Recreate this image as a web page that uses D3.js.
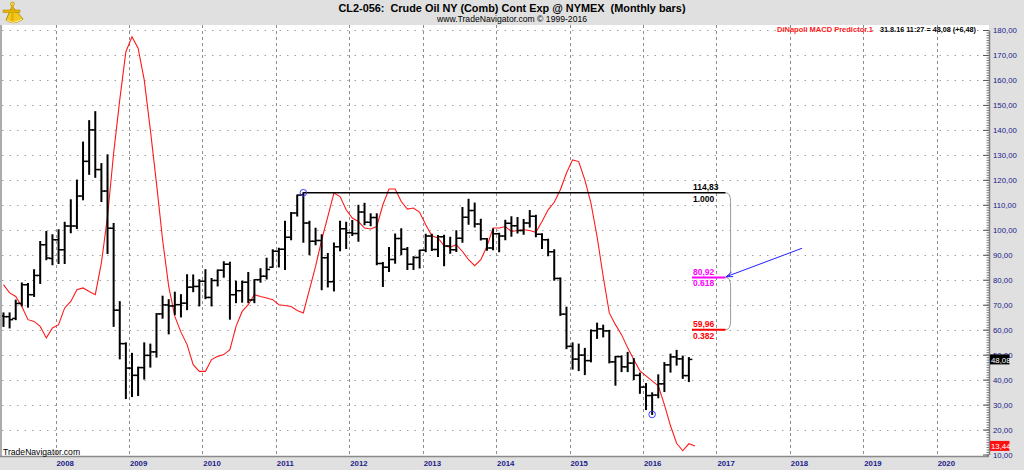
<!DOCTYPE html>
<html><head><meta charset="utf-8">
<script src="https://cdn.jsdelivr.net/npm/d3@7"></script>
<style>
html,body{margin:0;padding:0;background:#e0e0e0;overflow:hidden;}
svg{display:block;font-family:"Liberation Sans",Arial,sans-serif;}
</style></head><body>
<svg id="c" width="1024" height="470"></svg>
<script>
const months = ("2007-04 2007-05 2007-06 2007-07 2007-08 2007-09 2007-10 2007-11 2007-12 " +
 "2008-01 2008-02 2008-03 2008-04 2008-05 2008-06 2008-07 2008-08 2008-09 2008-10 2008-11 2008-12 " +
 "2009-01 2009-02 2009-03 2009-04 2009-05 2009-06 2009-07 2009-08 2009-09 2009-10 2009-11 2009-12 " +
 "2010-01 2010-02 2010-03 2010-04 2010-05 2010-06 2010-07 2010-08 2010-09 2010-10 2010-11 2010-12 " +
 "2011-01 2011-02 2011-03 2011-04 2011-05 2011-06 2011-07 2011-08 2011-09 2011-10 2011-11 2011-12 " +
 "2012-01 2012-02 2012-03 2012-04 2012-05 2012-06 2012-07 2012-08 2012-09 2012-10 2012-11 2012-12 " +
 "2013-01 2013-02 2013-03 2013-04 2013-05 2013-06 2013-07 2013-08 2013-09 2013-10 2013-11 2013-12 " +
 "2014-01 2014-02 2014-03 2014-04 2014-05 2014-06 2014-07 2014-08 2014-09 2014-10 2014-11 2014-12 " +
 "2015-01 2015-02 2015-03 2015-04 2015-05 2015-06 2015-07 2015-08 2015-09 2015-10 2015-11 2015-12 " +
 "2016-01 2016-02 2016-03 2016-04 2016-05 2016-06 2016-07 2016-08").split(" ");

const openV = [65.5,65.2,64.5,70.5,78.0,74.0,81.7,94.0,88.5,
 96.0,92.0,101.5,101.5,113.5,127.4,140.0,124.1,115.5,100.6,67.8,54.4,
 44.6,41.7,44.8,49.7,51.1,66.3,69.9,69.5,70.0,70.6,77.0,77.3,
 79.4,72.9,79.7,83.8,86.2,74.0,75.6,79.0,71.9,80.0,81.4,85.0,
 91.4,92.2,97.0,106.7,113.9,102.7,95.4,95.7,88.8,79.2,93.2,100.4,
 98.8,98.5,107.1,103.0,104.9,86.5,85.0,88.1,96.5,92.2,86.2,88.9,
 91.8,97.5,92.1,97.2,93.5,92.0,96.6,105.0,107.7,102.3,96.4,92.7,
 98.4,97.5,102.6,101.6,99.7,102.7,105.4,98.2,96.0,91.2,80.5,66.2,
 53.3,48.2,49.8,47.6,59.6,60.3,59.5,47.1,49.2,45.1,46.6,41.7,
 37.0,33.6,33.8,38.3,45.9,49.1,48.3,41.6];
const highV = [66.7,66.7,71.8,78.7,78.5,84.0,95.3,99.3,98.0,
 100.0,103.0,112.0,119.9,135.1,143.7,147.3,126.5,130.0,102.5,71.2,54.7,
 50.5,45.0,54.7,54.2,66.4,73.4,72.0,75.0,74.0,82.0,81.9,80.0,
 84.0,80.5,83.9,87.2,87.0,79.4,79.4,82.9,80.0,84.4,88.6,92.0,
 92.6,103.4,106.9,113.9,114.83,103.4,100.6,98.0,90.5,94.7,103.4,103.0,
 103.7,109.8,110.6,106.4,106.4,86.9,92.9,98.3,100.4,92.9,89.2,91.8,
 98.2,98.2,97.7,97.8,97.0,99.6,108.9,112.2,110.7,104.2,96.5,100.3,
 98.6,103.8,105.2,104.9,104.1,107.7,105.8,98.4,96.2,92.0,80.7,69.0,
 54.7,54.2,52.5,59.9,62.6,61.8,59.7,49.3,49.5,50.9,48.4,42.6,
 38.4,34.7,41.9,46.8,50.2,51.7,49.4,48.8];
const lowV = [61.3,60.7,64.0,69.5,69.0,73.3,78.5,88.0,86.0,
 86.5,86.5,98.8,100.5,112.0,122.2,121.0,111.3,90.5,61.3,48.3,32.4,
 33.2,33.6,40.2,45.0,49.0,64.6,58.3,66.0,65.1,68.0,75.2,69.5,
 72.4,69.5,77.5,81.0,64.2,70.8,71.0,70.8,70.8,79.0,80.3,85.0,
 85.1,84.1,96.0,105.5,95.0,90.0,94.0,76.0,77.1,75.5,91.6,92.5,
 97.7,95.4,102.0,101.6,86.0,77.3,83.3,86.6,90.0,84.1,84.1,84.7,
 91.2,91.7,89.3,85.6,90.6,91.3,95.0,102.2,101.1,95.9,91.8,92.0,
 91.2,96.0,97.4,98.7,98.2,101.1,97.2,92.5,89.6,79.8,65.7,52.4,
 44.2,43.6,42.0,47.1,56.5,57.1,46.7,37.75,43.2,43.2,40.0,34.5,
 28.0,26.05,32.7,35.2,43.0,45.8,40.5,39.2];
const closeV = [65.2,64.0,70.5,78.0,74.0,81.7,94.0,88.7,96.0,
 92.0,101.5,101.5,113.5,127.4,140.0,124.1,115.5,100.6,67.8,54.4,44.6,
 41.7,44.8,49.7,51.1,66.3,69.9,69.5,70.0,70.6,77.0,77.3,79.4,
 72.9,79.7,83.8,86.2,74.0,75.6,79.0,71.9,80.0,81.4,84.1,91.4,
 92.2,97.0,106.7,113.9,102.7,95.4,95.7,88.8,79.2,93.2,100.4,98.8,
 98.5,107.1,103.0,104.9,86.5,85.0,88.1,96.5,92.2,86.2,88.9,91.8,
 97.5,92.1,97.2,93.5,92.0,96.6,105.0,107.7,102.3,96.4,92.7,98.4,
 97.5,102.6,101.6,99.7,102.7,105.4,98.2,96.0,91.2,80.5,66.2,53.3,
 48.2,49.8,47.6,59.6,60.3,59.5,47.1,49.2,45.1,46.6,41.7,37.0,
 33.6,33.8,38.3,45.9,49.1,48.3,41.6,48.08];

// DiNapoli MACD Predictor, Apr 2007 .. Sep 2016 (one bar beyond the price data)
const predictorMonths = months.concat(["2016-09"]);
const predictorV = [78,74.7,73.3,69.3,64,63.3,61.3,56.7,60.7,
 62,68.7,71.3,76,76.7,75.3,74,86.7,105.3,130.7,152,171.3,
 177.3,172.7,160,140,118.7,96,77.3,65.3,59,54,46,43.3,
 43.3,48,49.3,50,52,61.3,67.3,70,74,73.3,72.7,72,
 70,69.7,69.3,67.7,66.7,76,85.3,96,105.3,114.7,113.3,108,
 104.7,103.3,100.7,100.3,101.3,110,116.3,116.3,111.3,108.3,108.7,107,
 102,97.6,96.7,93.6,93,94,91.3,88,85.6,88,93.3,100.7,
 100.7,101.3,99.3,99.7,100,99.7,99,103.3,108,111,116,122.7,
 128,127.3,120,110.7,97.3,81.3,66.7,62,58,52.7,48,43.5,
 41.5,39.5,37.5,30,21.5,14.5,11.5,14.3,13.44];

const yTicks = [10,20,30,40,50,60,70,80,90,100,110,120,130,140,150,160,170,180];
const yearLabels = ["2008","2009","2010","2011","2012","2013","2014","2015","2016","2017","2018","2019","2020"];

// Fibonacci retracement annotation
const swingHighMonth = "2011-05", swingHigh = 114.83;
const swingLowMonth = "2016-02", swingLow = 26.05;
const fibValues = [114.83, 80.92, 59.96];
const fibRatios = ["1.000", "0.618", "0.382"];
const fibEndMonth = "2017-02";
const fibLabelMonth = "2016-09";
const arrowFrom = ["2018-03", 92.6], arrowTo = ["2017-03", 81.2];

const lastPrice = 48.08, lastPredictor = 13.44;

const title = "CL2-056:  Crude Oil NY (Comb) Cont Exp @ NYMEX  (Monthly bars)";
const subtitle = "www.TradeNavigator.com \u00A9 1999-2016";
const legendName = "DiNapoli MACD Predictor.1";
const legendQuote = "31.8.16 11:27 = 48,08 (+6,48)";

// ---------------------------------------------------------------
const svg = d3.select("#c");
const L = 2, R = 989, T = 25, B = 456;
const mIdx = m => { const [y, mo] = m.split("-").map(Number); return (y - 2008) * 12 + (mo - 1); };
const x = d3.scaleLinear().domain([0, 144]).range([55.5, 936.7]);
const y = d3.scaleLinear().domain([10, 180]).range([454.5, 30]);
const cx = m => x(mIdx(m) + 0.5);
const fmt = v => d3.format(".2f")(v).replace(".", ",");

// plot background
svg.append("rect").attr("x", L).attr("y", T).attr("width", R - L).attr("height", B - T).attr("fill", "#fff");
svg.append("line").attr("x1", 1).attr("x2", 1).attr("y1", T).attr("y2", B).attr("stroke", "#9a9a9a").attr("stroke-width", 1.5);
svg.append("line").attr("x1", 0).attr("x2", R).attr("y1", B + 0.5).attr("y2", B + 0.5).attr("stroke", "#8a8a8a").attr("stroke-width", 1.5);

svg.append("clipPath").attr("id", "clip").append("rect").attr("x", L).attr("y", T).attr("width", R - L).attr("height", B - T);
const plot = svg.append("g").attr("clip-path", "url(#clip)");

// grid
plot.append("g").selectAll("line").data(yTicks.filter(v => v > 10)).join("line")
  .attr("x1", L).attr("x2", R).attr("y1", d => Math.round(y(d)) + 0.5).attr("y2", d => Math.round(y(d)) + 0.5)
  .attr("stroke", "#a0a0a0").attr("stroke-width", 1).attr("stroke-dasharray", "1.5,6");
plot.append("g").selectAll("line").data(yearLabels).join("line")
  .attr("x1", d => Math.round(x(mIdx(d + "-01"))) + 0.5).attr("x2", d => Math.round(x(mIdx(d + "-01"))) + 0.5)
  .attr("y1", T).attr("y2", B)
  .attr("stroke", "#8c8c8c").attr("stroke-width", 1).attr("stroke-dasharray", "3,3");

// predictor line
plot.append("path")
  .datum(predictorV.map((v, i) => [cx(predictorMonths[i]), y(v)]))
  .attr("d", d3.line()).attr("fill", "none").attr("stroke", "#ff1a1a").attr("stroke-width", 1.1);

// OHLC bars
const bars = plot.append("g").attr("stroke", "#000");
months.forEach((m, i) => {
  const xc = cx(m);
  bars.append("line").attr("x1", xc).attr("x2", xc).attr("y1", y(highV[i]) - 0.5).attr("y2", y(lowV[i]) + 0.5).attr("stroke-width", 2);
  bars.append("line").attr("x1", xc - 3.5).attr("x2", xc).attr("y1", y(openV[i])).attr("y2", y(openV[i])).attr("stroke-width", 1.5);
  bars.append("line").attr("x1", xc).attr("x2", xc + 3.5).attr("y1", y(closeV[i])).attr("y2", y(closeV[i])).attr("stroke-width", 1.5);
});

// fib lines
const fibColors = ["#000000", "#ff00ff", "#ff0000"];
const fibTextColors = ["#000000", "#ff00ff", "#ff0000"];
const xEnd = x(mIdx(fibEndMonth) + 0.5);
fibValues.forEach((v, k) => {
  const x0 = k === 0 ? cx(swingHighMonth) : x(mIdx(fibLabelMonth));
  plot.append("line").attr("x1", x0).attr("x2", xEnd).attr("y1", y(v)).attr("y2", y(v))
    .attr("stroke", fibColors[k]).attr("stroke-width", k === 0 ? 1.6 : 2);
  const tx = x(mIdx(fibLabelMonth)) + 1;
  plot.append("text").attr("x", tx).attr("y", y(v) - 2.5).text(fmt(v))
    .attr("fill", fibTextColors[k]).attr("font-size", "8.5px").attr("font-weight", "bold");
  plot.append("text").attr("x", tx).attr("y", y(v) + 9).text(fibRatios[k])
    .attr("fill", fibTextColors[k]).attr("font-size", "8.5px").attr("font-weight", "bold");
});
// braces
for (let k = 0; k < fibValues.length - 1; k++) {
  const y1 = y(fibValues[k]), y2 = y(fibValues[k + 1]), bx = xEnd, w = 5;
  plot.append("path")
    .attr("d", `M${bx},${y1} Q${bx + w},${y1} ${bx + w},${y1 + 9} L${bx + w},${y2 - 9} Q${bx + w},${y2} ${bx},${y2}`)
    .attr("fill", "none").attr("stroke", "#9a9a9a").attr("stroke-width", 1);
}
// arrow
const ax1 = x(mIdx(arrowFrom[0])), ay1 = y(arrowFrom[1]);
const ax2 = x(mIdx(arrowTo[0]) - 0.4), ay2 = y(arrowTo[1]);
plot.append("line").attr("x1", ax1).attr("y1", ay1).attr("x2", ax2).attr("y2", ay2).attr("stroke", "#2020ff").attr("stroke-width", 1);
{
  const ang = Math.atan2(ay1 - ay2, ax1 - ax2), h = 7, sp = 0.35;
  const p1 = [ax2 + h * Math.cos(ang + sp), ay2 + h * Math.sin(ang + sp)];
  const p2 = [ax2 + h * Math.cos(ang - sp), ay2 + h * Math.sin(ang - sp)];
  plot.append("path").attr("d", `M${p1}L${ax2},${ay2}L${p2}`).attr("fill", "none").attr("stroke", "#2020ff").attr("stroke-width", 1);
}
// swing circles
[[swingHighMonth, swingHigh], [swingLowMonth, swingLow]].forEach(([m, v]) => {
  plot.append("circle").attr("cx", cx(m)).attr("cy", y(v)).attr("r", 3.3)
    .attr("fill", "none").attr("stroke", "#3a3aff").attr("stroke-width", 1);
});

// watermark
svg.append("text").attr("x", 3).attr("y", 454.5).text("TradeNavigator.com")
  .attr("font-size", "8.6px").attr("fill", "#000");

// right axis
svg.append("rect").attr("x", R).attr("y", T).attr("width", 1024 - R).attr("height", B - T + 1).attr("fill", "#e0e0e0");
const minor = svg.append("g").attr("transform", `translate(${R},0)`)
  .call(d3.axisRight(y).tickValues(d3.range(10, 181, 1)).tickSizeInner(-2.5).tickSizeOuter(0).tickFormat(""));
minor.select(".domain").remove();
minor.selectAll("line").attr("stroke", "#777");
const major = svg.append("g").attr("transform", `translate(${R},0)`)
  .call(d3.axisRight(y).tickValues(yTicks).tickSizeInner(-6).tickSizeOuter(0).tickPadding(4).tickFormat(fmt));
major.select(".domain").attr("stroke", "#808080").attr("stroke-width", 1.5);
major.selectAll("line").attr("stroke", "#555");
major.selectAll("text").attr("fill", "#20208a").attr("font-size", "7.8px").attr("font-family", "Liberation Sans, Arial, sans-serif");

// value boxes
[[lastPrice, "#000000"], [lastPredictor, "#ff1010"]].forEach(([v, col]) => {
  svg.append("rect").attr("x", R + 1).attr("y", y(v) - 5).attr("width", 19.5).attr("height", 10).attr("fill", col);
  svg.append("text").attr("x", R + 2).attr("y", y(v) + 3.2).text(fmt(v))
    .attr("fill", "#fff").attr("font-size", "7.8px");
});

// bottom axis
const xa = svg.append("g").attr("transform", `translate(0,${B})`)
  .call(d3.axisBottom(x).tickValues(yearLabels.map(d => mIdx(d + "-01"))).tickSize(0).tickFormat((d, i) => yearLabels[i]));
xa.select(".domain").remove();
xa.selectAll("text").attr("text-anchor", "start").attr("dx", "0.5").attr("y", 4).attr("dy", "0.71em")
  .attr("fill", "#20208a").attr("font-size", "7.8px").attr("font-weight", "bold").attr("font-family", "Liberation Sans, Arial, sans-serif");

// header
svg.append("text").attr("x", 512).attr("y", 11.5).attr("text-anchor", "middle").style("white-space", "pre")
  .attr("font-size", "11.5px").attr("font-weight", "bold").attr("textLength", 347).attr("lengthAdjust", "spacingAndGlyphs").text(title);
svg.append("text").attr("x", 512).attr("y", 22).attr("text-anchor", "middle")
  .attr("font-size", "8.8px").attr("textLength", 150).attr("lengthAdjust", "spacingAndGlyphs").text(subtitle);
svg.append("text").attr("x", 777).attr("y", 32).attr("font-size", "8px").attr("font-weight", "bold").attr("fill", "#ff1a1a")
  .attr("textLength", 96).attr("lengthAdjust", "spacingAndGlyphs").text(legendName);
svg.append("text").attr("x", 880).attr("y", 32).attr("font-size", "8px").attr("font-weight", "bold").attr("fill", "#000")
  .attr("textLength", 96).attr("lengthAdjust", "spacingAndGlyphs").text(legendQuote);

// logo (sextant)
const logo = svg.append("g").attr("transform", "translate(3,2)");
logo.append("path").attr("d", "M9,4 L3,18 Q11,24 20,17 Z").attr("fill", "#f2c820").attr("stroke", "#a88000").attr("stroke-width", 0.8);
logo.append("rect").attr("x", 0).attr("y", 8).attr("width", 17).attr("height", 2.5).attr("fill", "#e8b800").attr("stroke", "#a88000").attr("stroke-width", 0.5);
logo.append("rect").attr("x", 8.3).attr("y", 0.5).attr("width", 2.2).attr("height", 20).attr("fill", "#e0b000");
logo.append("circle").attr("cx", 9.4).attr("cy", 2).attr("r", 2).attr("fill", "#f5d040").attr("stroke", "#a88000").attr("stroke-width", 0.5);
logo.append("path").attr("d", "M4,18 Q11,23 19,17").attr("fill", "none").attr("stroke", "#fff1a0").attr("stroke-width", 1);
</script>
</body></html>
